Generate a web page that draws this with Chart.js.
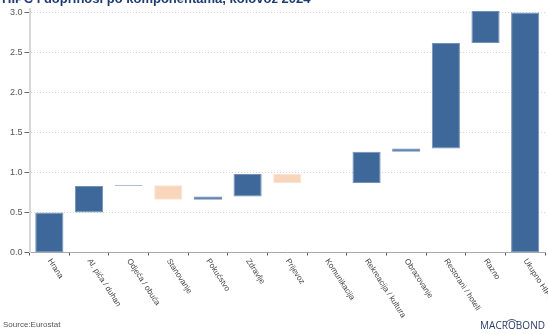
<!DOCTYPE html>
<html>
<head>
<meta charset="utf-8">
<script src="https://cdn.jsdelivr.net/npm/chart.js@4"></script>
<style>
  html, body { margin: 0; padding: 0; background: #ffffff; }
  #wrap { position: relative; width: 548px; height: 334px; }
</style>
</head>
<body>
<div id="wrap"><canvas id="chart" width="548" height="334"></canvas></div>
<script>
// HIPC components and their contributions (percentage points), August 2024
const categories = [
  'Hrana', 'Al. pića / duhan', 'Odjeća / obuća', 'Stanovanje', 'Pokućstvo',
  'Zdravlje', 'Prijevoz', 'Komunikacija', 'Rekreacija / kultura',
  'Obrazovanje', 'Restorani / hoteli', 'Razno', 'Ukupno HIPC'
];
const contributions = [0.50, 0.33, 0.01, -0.18, 0.04, 0.28, -0.11, 0.00, 0.39, 0.04, 1.32, 0.40];
const totalHIPC = 3.00;
const yTicks = [0, 0.5, 1.0, 1.5, 2.0, 2.5, 3.0];

const titleText = 'HIPC i doprinosi po komponentama, kolovoz 2024';
const sourceText = 'Source:Eurostat';

const BLUE = '#3e6899';
const BLUE_EDGE = '#7391b8';
const PEACH = '#f9d5bb';
const PEACH_EDGE = '#fbe2d0';

// Waterfall: each component floats from the running total
const floating = [];
let running = 0;
contributions.forEach(v => {
  floating.push([running, running + v]);
  running += v;
});
floating.push([0, totalHIPC]);
const deltas = contributions.concat([totalHIPC]);

const fillColors = deltas.map(v => v < 0 ? PEACH : BLUE);
const edgeColors = deltas.map(v => v < 0 ? PEACH_EDGE : BLUE_EDGE);
const edgeWidths = deltas.map(v => v === 0 ? 0 : 1);

const decorations = {
  id: 'decorations',
  afterDraw(chart) {
    const ctx = chart.ctx;
    const x = chart.scales.x;
    ctx.save();

    // title, partly above the canvas edge
    ctx.fillStyle = '#1d3c74';
    ctx.font = 'bold 13px "Liberation Sans", Arial, sans-serif';
    ctx.textAlign = 'left';
    ctx.textBaseline = 'alphabetic';
    ctx.fillText(titleText, 2, 3);

    // rotated category labels hanging below the axis
    ctx.fillStyle = '#444';
    ctx.font = '8px "Liberation Sans", Arial, sans-serif';
    ctx.textBaseline = 'middle';
    categories.forEach((lab, i) => {
      const px = x.getPixelForValue(i);
      ctx.save();
      ctx.translate(px, x.top + 7);
      ctx.rotate(57 * Math.PI / 180);
      ctx.fillText(lab, 0, 0);
      ctx.restore();
    });

    // source note
    ctx.fillStyle = '#555';
    ctx.font = '8px "Liberation Sans", Arial, sans-serif';
    ctx.textBaseline = 'alphabetic';
    ctx.fillText(sourceText, 3, 327);

    // brand mark
    ctx.fillStyle = '#2b3b69';
    ctx.strokeStyle = '#2b3b69';
    ctx.font = '10px "Open Sans", sans-serif';
    const brand = 'MACROBOND';
    const bx = 480, by = 329, targetW = 65;
    const rawW = ctx.measureText(brand).width;
    const sp = (targetW - rawW) / (brand.length - 1);
    let cx = bx;
    brand.split('').forEach((ch, k) => {
      const w = ctx.measureText(ch).width;
      if (k === 4) {
        ctx.lineWidth = 0.9;
        ctx.beginPath();
        ctx.arc(cx + w / 2, by - 3, 6.5, Math.PI * 1.2, Math.PI * 1.8);
        ctx.stroke();
      }
      ctx.fillText(ch, cx, by);
      cx += w + sp;
    });

    ctx.restore();
  }
};

new Chart(document.getElementById('chart'), {
  type: 'bar',
  data: {
    labels: categories,
    datasets: [{
      data: floating,
      backgroundColor: fillColors,
      borderColor: edgeColors,
      borderWidth: edgeWidths,
      borderSkipped: false,
      barPercentage: 0.71,
      categoryPercentage: 1.0
    }]
  },
  options: {
    responsive: false,
    animation: false,
    layout: { padding: { top: 8.5, right: 3, left: 0, bottom: 0 } },
    plugins: { legend: { display: false }, tooltip: { enabled: false }, title: { display: false } },
    scales: {
      x: {
        afterFit(scale) { scale.height = 81.5; },
        ticks: { display: false },
        grid: {
          drawOnChartArea: false,
          drawTicks: true,
          tickLength: 3,
          tickColor: '#555',
          offset: true
        },
        border: { display: true, color: '#a8a8a8', width: 1 }
      },
      y: {
        min: 0,
        max: 3.05,
        afterFit(scale) { scale.width = 29.5; },
        afterBuildTicks(scale) { scale.ticks = yTicks.map(v => ({ value: v })); },
        ticks: {
          color: '#555',
          font: { size: 9, family: '"Liberation Sans", Arial, sans-serif' },
          padding: 2,
          callback: v => Number(v).toFixed(1)
        },
        grid: {
          color: '#d4d4d4',
          lineWidth: 1,
          tickLength: 5,
          tickColor: '#666',
          tickBorderDash: []
        },
        border: { display: true, color: '#d8d8d8', width: 2, dash: [1, 2] }
      }
    }
  },
  plugins: [decorations]
});
</script>
</body>
</html>
